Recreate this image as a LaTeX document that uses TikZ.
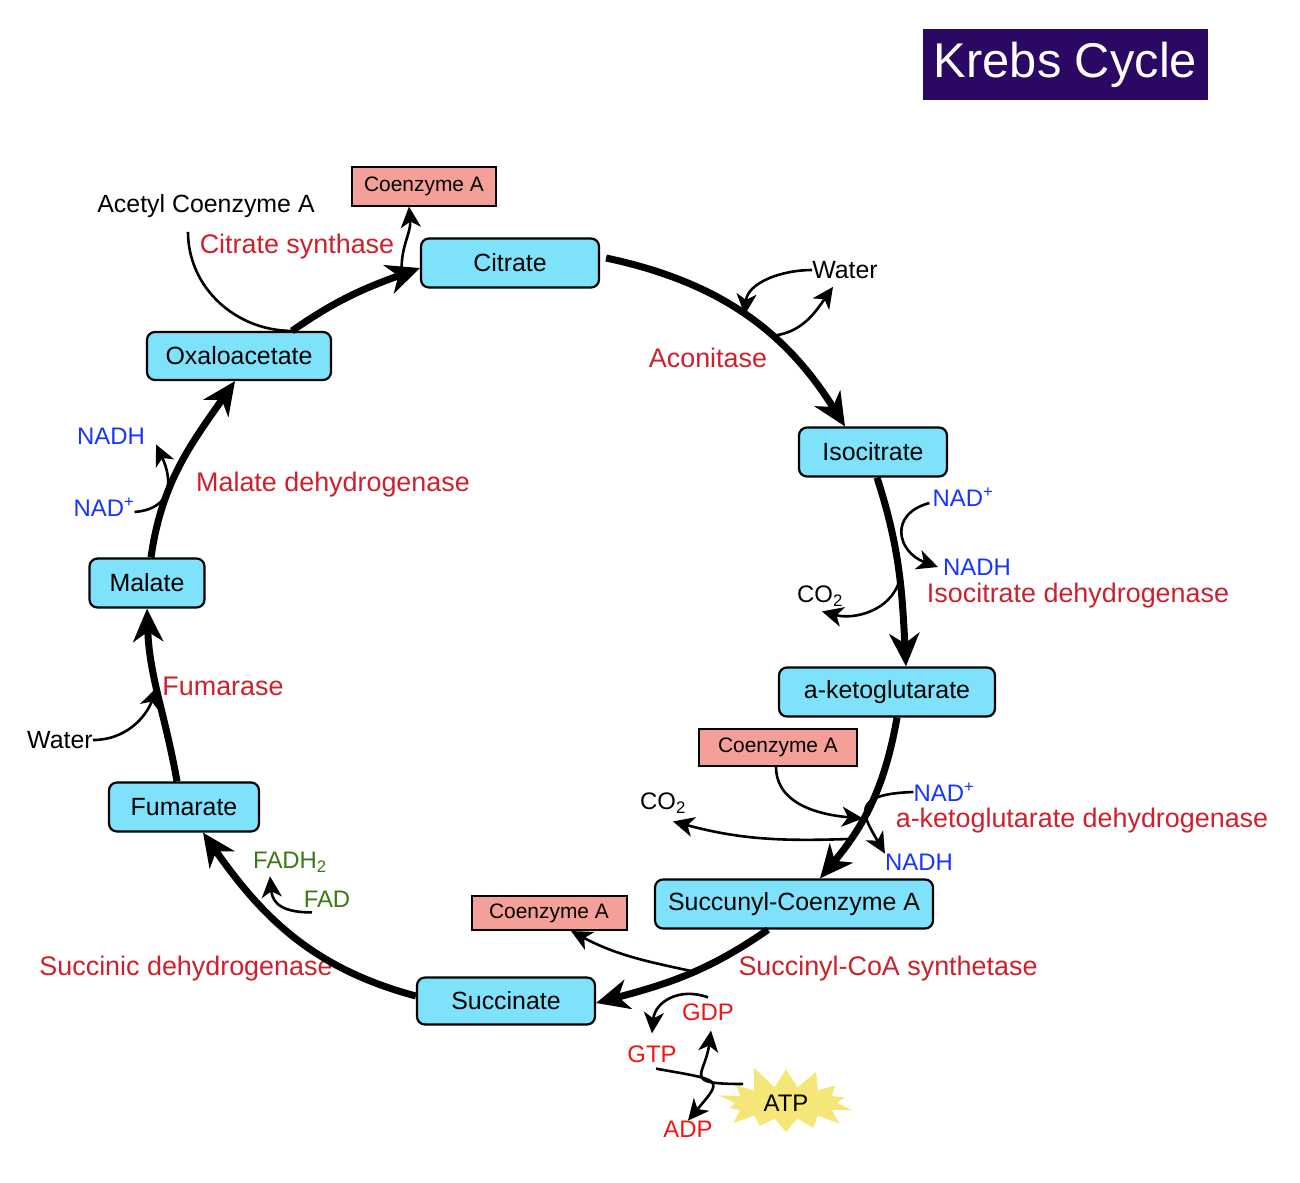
\documentclass[tikz,border=0pt]{standalone}
\usepackage{fontspec}
\setmainfont{Liberation Sans}
\usetikzlibrary{arrows.meta, shapes.symbols, positioning}

\definecolor{boxcyan}{RGB}{126,226,251}
\definecolor{coapink}{RGB}{244,160,152}
\definecolor{enzred}{RGB}{205,32,44}
\definecolor{gtpred}{RGB}{240,20,20}
\definecolor{nadblue}{RGB}{22,52,255}
\definecolor{fadgreen}{RGB}{60,120,20}
\definecolor{titlebg}{RGB}{42,8,100}
\definecolor{atpyellow}{RGB}{245,230,120}

\tikzset{
  stage/.style = {draw, line width=2.2bp, rounded corners=8bp, fill=boxcyan,
    minimum height=49bp, inner sep=0pt, font=\fontsize{25}{30}\selectfont},
  coabox/.style = {draw, line width=2bp, fill=coapink, inner sep=0pt,
    font=\fontsize{21}{25}\selectfont},
  enzyme/.style = {text=enzred, inner sep=0pt, font=\fontsize{27}{32}\selectfont},
  molecule/.style = {inner sep=0pt, font=\fontsize{24}{29}\selectfont},
  mainarrow/.style = {line width=7bp, -{Stealth[length=33bp, width=30bp, inset=10bp]}},
  sidearrow/.style = {line width=2.6bp, -{Stealth[length=21bp, width=20bp, inset=6bp]}},
  sideline/.style = {line width=2.6bp}
}

\begin{document}
\begin{tikzpicture}[x=1bp, y=1bp]

  \useasboundingbox (0,0) rectangle (1300,-1182);

  % Title
  \node[fill=titlebg, text=white, minimum width=285bp, minimum height=71bp, inner sep=0pt,
    font=\fontsize{49}{58}\selectfont] (title) at (1065.5,-64.5) {Krebs Cycle};

  % Stages of the cycle
  \node[stage, minimum width=178bp] (cit) at (510,-263) {Citrate};
  \node[stage, minimum width=148bp] (iso) at (873,-452) {Isocitrate};
  \node[stage, minimum width=216bp] (akg) at (887,-692) {a-ketoglutarate};
  \node[stage, minimum width=278bp] (sca) at (794,-904) {Succunyl-Coenzyme A};
  \node[stage, minimum width=178bp, minimum height=47bp] (suc) at (506,-1001) {Succinate};
  \node[stage, minimum width=150bp] (fum) at (184,-807) {Fumarate};
  \node[stage, minimum width=115bp] (mal) at (147,-583) {Malate};
  \node[stage, minimum width=184bp, minimum height=48bp] (oxa) at (239,-356) {Oxaloacetate};

  % Coenzyme A boxes
  \node[coabox, minimum width=144bp, minimum height=39bp] (coaA) at (424,-186) {Coenzyme A};
  \node[coabox, minimum width=158bp, minimum height=37bp] (coaB) at (778,-747) {Coenzyme A};
  \node[coabox, minimum width=155bp, minimum height=34bp] (coaC) at (549,-913) {Coenzyme A};

  % Enzymes
  \node[enzyme] (csyn) at (297,-247) {Citrate synthase};
  \node[enzyme] (acon) at (708,-358) {Aconitase};
  \node[enzyme] (idh) at (1078,-596) {Isocitrate dehydrogenase};
  \node[enzyme] (akgdh) at (1082,-821) {a-ketoglutarate dehydrogenase};
  \node[enzyme] (scs) at (888,-969) {Succinyl-CoA synthetase};
  \node[enzyme] (sdh) at (186,-969) {Succinic dehydrogenase};
  \node[enzyme] (fumase) at (223,-686) {Fumarase};
  \node[enzyme] (mdh) at (333,-485) {Malate dehydrogenase};

  % Molecules
  \node[molecule, font=\fontsize{25}{30}\selectfont] (acoa) at (206,-206) {Acetyl Coenzyme A};
  \node[molecule, font=\fontsize{25}{30}\selectfont] (water1) at (845,-270) {Water};
  \node[molecule, font=\fontsize{25}{30}\selectfont] (water2) at (60,-740) {Water};
  \node[molecule, text=nadblue] (nad1) at (963,-497) {NAD\textsuperscript{+}};
  \node[molecule, text=nadblue] (nadh1) at (977,-567) {NADH};
  \node[molecule] (co2a) at (820,-596) {CO\textsubscript{2}};
  \node[molecule, text=nadblue] (nad2) at (944,-792) {NAD\textsuperscript{+}};
  \node[molecule, text=nadblue] (nadh2) at (919,-862) {NADH};
  \node[molecule] (co2b) at (663,-803) {CO\textsubscript{2}};
  \node[molecule, text=gtpred] (gdp) at (708,-1012) {GDP};
  \node[molecule, text=gtpred] (gtp) at (652,-1054) {GTP};
  \node[molecule, text=gtpred] (adp) at (688,-1129) {ADP};
  \node[molecule, starburst, fill=atpyellow, starburst points=14, starburst point height=24bp,
    random starburst=11, minimum width=150bp, minimum height=80bp] (atp) at (786,-1103) {ATP};
  \node[molecule, text=fadgreen] (fadh2) at (290,-862) {FADH\textsubscript{2}};
  \node[molecule, text=fadgreen] (fad) at (327,-899) {FAD};
  \node[molecule, text=nadblue] (nad3) at (104,-507) {NAD\textsuperscript{+}};
  \node[molecule, text=nadblue] (nadh3) at (111,-436) {NADH};

  % Main cycle
  \draw[mainarrow] ([xshift=53bp]oxa.north) to[out=35, in=200] coordinate[pos=0.88] (coaoff) ([yshift=-5bp]cit.west);
  \draw[mainarrow] ([xshift=6bp,yshift=5bp]cit.east) to[out=-12, in=122]
    coordinate[pos=0.5] (w1in) coordinate[pos=0.62] (w1out) ([xshift=-28bp]iso.north);
  \draw[mainarrow] ([xshift=4bp]iso.south) to[out=-72, in=93] coordinate[pos=0.55] (co2aout) ([xshift=19bp]akg.north);
  \draw[mainarrow] ([xshift=10bp]akg.south) to[out=-100, in=50]
    coordinate[pos=0.6] (coaBin) coordinate[pos=0.74] (co2bout) ([xshift=26bp]sca.north);
  \draw[mainarrow] ([xshift=-26bp]sca.south) to[out=-145, in=15] coordinate[pos=0.45] (coaCout) ([yshift=-2bp]suc.east);
  \draw[mainarrow] ([yshift=5bp]suc.west) to[out=165, in=-55] ([xshift=19bp]fum.south);
  \draw[mainarrow] ([xshift=-7bp]fum.north) to[out=100, in=-88] coordinate[pos=0.55] (w2in) (mal.south);
  \draw[mainarrow] ([xshift=4bp]mal.north) to[out=82, in=-125] ([xshift=-4bp]oxa.south);

  % Side reactions
  \draw[sideline] ([xshift=-18bp,yshift=-14bp]acoa.south) to[out=-90, in=180] ([xshift=53bp]oxa.north);
  \draw[sidearrow] (coaoff) to[out=95, in=-85] ([xshift=-15bp]coaA.south);
  \draw[sidearrow] (water1.west) to[out=180, in=85] (w1in);
  \draw[sidearrow] (w1out) to[out=5, in=235] ([xshift=-12bp,yshift=-8bp]water1.south);
  \draw[sidearrow] ([xshift=-3bp,yshift=-6bp]nad1.west) to[out=195, in=160, looseness=1.7] ([xshift=-5bp]nadh1.west);
  \draw[sidearrow] (co2aout) to[out=-105, in=-15] ([xshift=2bp,yshift=-5bp]co2a.south);
  \draw[sidearrow] ([xshift=-2bp]coaB.south) to[out=-90, in=175] (coaBin);
  \draw[sidearrow] (nad2.west) .. controls +(-65,-2) and +(-22,38) .. (nadh2.north west);
  \draw[sidearrow] (co2bout) to[out=182, in=-15] ([xshift=10bp,yshift=-8bp]co2b.south);
  \draw[sidearrow] (coaCout) to[out=168, in=-28] ([xshift=22bp]coaC.south);
  \draw[sidearrow] ([yshift=6bp]gdp.north) to[out=160, in=85, looseness=1.2] ([yshift=12bp]gtp.north);
  \draw[sidearrow] ([xshift=4bp,yshift=-6bp]gtp.south) .. controls +(68,-12) and +(35,42) .. (adp.north);
  \draw[sidearrow] ([xshift=-43bp,yshift=19bp]atp.center) .. controls +(-62,0) and +(-6,-45) .. ([xshift=3bp,yshift=-10bp]gdp.south);
  \draw[sidearrow] ([yshift=-5bp]nad3.east) to[out=5, in=-65, looseness=1.4] ([xshift=11bp]nadh3.south east);
  \draw[sidearrow] (water2.east) to[out=0, in=-110] (w2in);
  \draw[sidearrow] ([xshift=-15bp,yshift=-5bp]fad.south) to[out=180, in=-85, looseness=1.3] ([xshift=-20bp,yshift=-4bp]fadh2.south);

\end{tikzpicture}
\end{document}
